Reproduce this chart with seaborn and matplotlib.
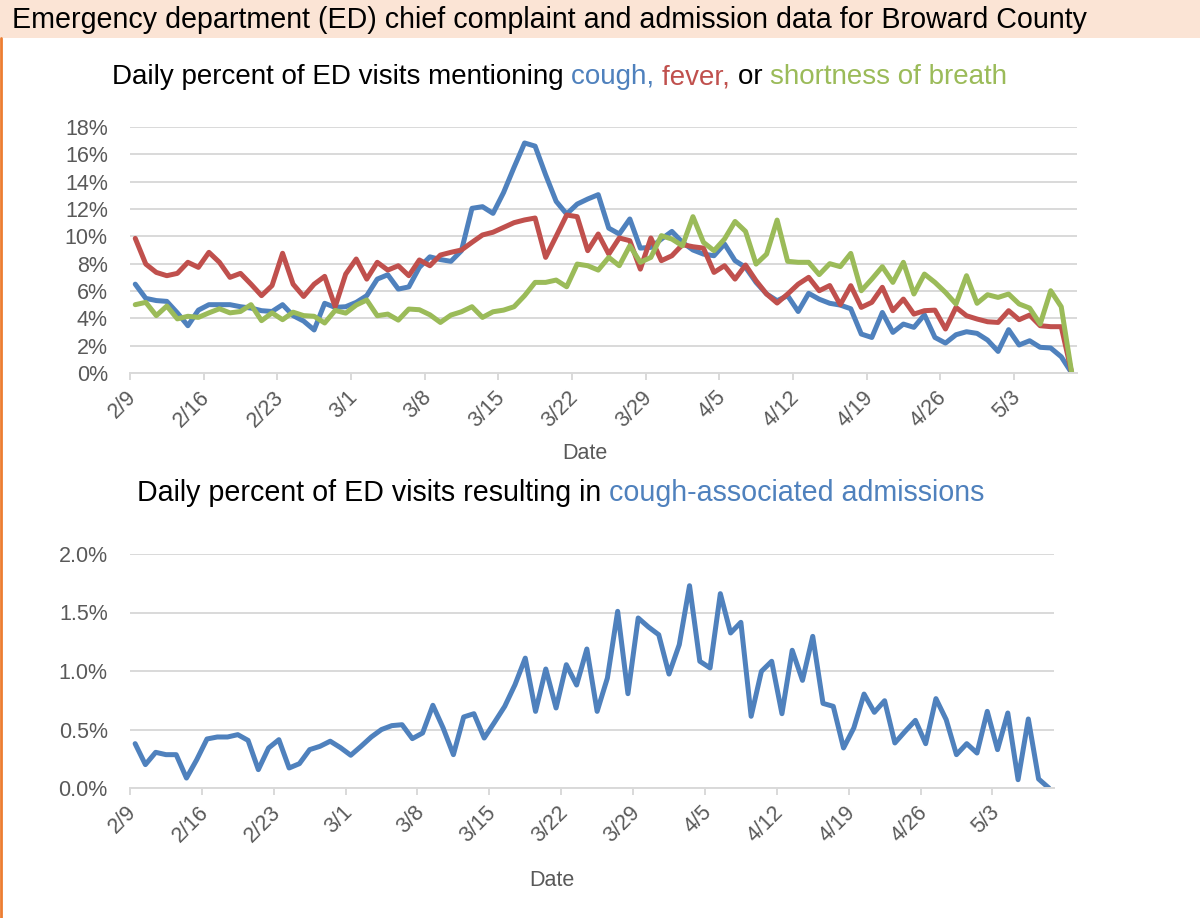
import numpy as np
import pandas as pd
import matplotlib
matplotlib.use("Agg")
import matplotlib.pyplot as plt
import matplotlib.transforms as mtransforms
from matplotlib.patches import Rectangle
from matplotlib.lines import Line2D
from matplotlib import font_manager
import seaborn as sns

# ---------------- data ----------------
start_date = "2020-02-09"
tick_labels = ["2/9", "2/16", "2/23", "3/1", "3/8", "3/15", "3/22", "3/29",
               "4/5", "4/12", "4/19", "4/26", "5/3"]
series_names = ["cough", "fever", "shortness of breath"]

cough = [6.5, 5.46, 5.3, 5.24, 4.4, 3.46, 4.6, 5.0, 5.0, 5.0,
         4.85, 4.75, 4.56, 4.5, 5.0, 4.2, 3.8, 3.15, 5.1, 4.8,
         4.85, 5.17, 5.66, 6.87, 7.19, 6.14, 6.3, 7.73, 8.5, 8.3,
         8.17, 8.95, 12.05, 12.17, 11.68, 13.2, 15.05, 16.83, 16.6, 14.5,
         12.56, 11.63, 12.36, 12.73, 13.05, 10.6, 10.17, 11.27, 9.14, 9.19,
         9.8, 10.36, 9.56, 9.0, 8.7, 8.58, 9.44, 8.22, 7.73, 6.63,
         5.78, 5.29, 5.66, 4.5, 5.83, 5.4, 5.1, 4.97, 4.7, 2.85,
         2.6, 4.43, 2.97, 3.58, 3.34, 4.26, 2.6, 2.19, 2.8, 3.02,
         2.9, 2.41, 1.58, 3.17, 2.05, 2.36, 1.88, 1.83, 1.19, 0.0]

fever = [9.85, 7.97, 7.36, 7.12, 7.29, 8.1, 7.73, 8.83, 8.1, 7.0,
         7.29, 6.5, 5.66, 6.4, 8.76, 6.5, 5.6, 6.5, 7.07, 4.85,
         7.24, 8.34, 6.87, 8.1, 7.53, 7.85, 7.12, 8.27, 7.85, 8.63,
         8.83, 9.0, 9.56, 10.1, 10.3, 10.65, 11.0, 11.2, 11.34, 8.46,
         10.0, 11.56, 11.44, 8.95, 10.17, 8.7, 9.88, 9.68, 7.6, 9.88,
         8.22, 8.58, 9.39, 9.24, 9.14, 7.36, 7.85, 6.87, 7.9, 6.75,
         5.78, 5.12, 5.78, 6.5, 7.0, 6.02, 6.4, 5.0, 6.39, 4.8,
         5.17, 6.27, 4.56, 5.41, 4.31, 4.56, 4.6, 3.22, 4.8, 4.19,
         3.95, 3.75, 3.7, 4.56, 3.9, 4.24, 3.46, 3.39, 3.39, 0.0]

sob = [5.0, 5.17, 4.2, 4.9, 3.96, 4.15, 4.07, 4.4, 4.7, 4.4,
       4.5, 5.0, 3.83, 4.4, 3.9, 4.45, 4.2, 4.15, 3.66, 4.58,
       4.38, 4.97, 5.34, 4.19, 4.31, 3.87, 4.68, 4.63, 4.26, 3.7,
       4.24, 4.48, 4.85, 4.07, 4.48, 4.6, 4.85, 5.66, 6.63, 6.63,
       6.8, 6.31, 7.97, 7.85, 7.53, 8.46, 7.85, 9.31, 8.1, 8.46,
       10.05, 9.8, 9.31, 11.44, 9.56, 8.95, 9.8, 11.09, 10.36, 7.97,
       8.7, 11.19, 8.17, 8.1, 8.1, 7.2, 8.0, 7.78, 8.75, 6.02,
       6.87, 7.78, 6.63, 8.1, 5.78, 7.24, 6.63, 5.9, 5.05, 7.12,
       5.1, 5.73, 5.53, 5.78, 5.05, 4.75, 3.58, 6.02, 4.85, 0.0]

cough_admissions = [0.379, 0.2, 0.305, 0.285, 0.285, 0.085, 0.242, 0.419, 0.436, 0.436,
                    0.456, 0.407, 0.157, 0.342, 0.413, 0.171, 0.208, 0.328, 0.356, 0.4,
                    0.345, 0.28, 0.356, 0.436, 0.5, 0.533, 0.541, 0.422, 0.47, 0.707,
                    0.513, 0.285, 0.607, 0.635, 0.427, 0.561, 0.698, 0.883, 1.11, 0.655,
                    1.017, 0.684, 1.054, 0.88, 1.188, 0.655, 0.94, 1.51, 0.806, 1.453,
                    1.376, 1.31, 0.974, 1.225, 1.729, 1.083, 1.026, 1.661, 1.325, 1.416,
                    0.613, 0.997, 1.083, 0.635, 1.177, 0.92, 1.296, 0.723, 0.698, 0.342,
                    0.513, 0.803, 0.647, 0.746, 0.385, 0.484, 0.578, 0.379, 0.764, 0.584,
                    0.285, 0.379, 0.299, 0.655, 0.328, 0.641, 0.071, 0.59, 0.077, 0.0]

top_yticks = [0, 2, 4, 6, 8, 10, 12, 14, 16, 18]
bottom_yticks = [0.0, 0.5, 1.0, 1.5, 2.0]

# ---------------- styling ----------------
BLUE = "#4F81BD"
RED = "#C0504D"
GREEN = "#9BBB59"
GRID = "#D9D9D9"
TXT = "#595959"
palette = {"cough": BLUE, "fever": RED, "shortness of breath": GREEN}

sns.set_theme(style="white")
avail = {f.name for f in font_manager.fontManager.ttflist}
NARROW = "Liberation Sans Narrow" if "Liberation Sans Narrow" in avail else "Liberation Sans"
plt.rcParams["font.family"] = ["Liberation Sans", "DejaVu Sans"]

W, H = 1200, 918
fig = plt.figure(figsize=(W / 100, H / 100), dpi=100)
fig.patch.set_facecolor("white")
renderer = fig.canvas.get_renderer()

dates = pd.date_range(start_date, periods=len(cough), freq="D")
df_top = pd.DataFrame({
    "Date": np.concatenate([dates, dates, dates]),
    "Percent": cough + fever + sob,
    "Series": [series_names[0]] * len(cough) + [series_names[1]] * len(fever)
              + [series_names[2]] * len(sob),
})
df_bot = pd.DataFrame({"Date": dates, "Percent": cough_admissions})


def fx(px):
    return px / W


def fy(py):
    return 1 - py / H


# banner
BANNER_H = 38
fig.add_artist(Rectangle((0, fy(BANNER_H)), 1, BANNER_H / H, transform=fig.transFigure,
                         facecolor="#FBE4D5", edgecolor="none", zorder=0))
fig.add_artist(Line2D([fx(1), fx(1)], [0, fy(BANNER_H)], transform=fig.transFigure,
                      color="#ED7D31", lw=2))


def text_width(s, size, family):
    t = fig.text(0, 0, s + "|", fontsize=size, family=family)
    w1 = t.get_window_extent(renderer=renderer).width
    t.set_text("|")
    w2 = t.get_window_extent(renderer=renderer).width
    t.remove()
    return w1 - w2


def rainbow(x_px, y_px, pieces, target_w, family):
    full = "".join(p[0] for p in pieces)
    size = 10 * target_w / text_width(full, 10, family)
    prefix = ""
    for s, c in pieces:
        off = text_width(prefix, size, family) if prefix else 0
        fig.text(fx(x_px + off), fy(y_px), s, color=c, fontsize=size, family=family,
                 va="baseline", ha="left")
        prefix += s


rainbow(12, 28, [("Emergency department (ED) chief complaint and admission data for Broward County", "black")],
        1080, NARROW)
rainbow(112, 84, [("Daily percent of ED visits mentioning ", "black"), ("cough, ", BLUE),
                  ("fever, ", RED), ("or ", "black"), ("shortness of breath", GREEN)], 900, NARROW)
rainbow(137, 501, [("Daily percent of ED visits resulting in ", "black"),
                   ("cough-associated admissions", BLUE)], 850, NARROW)


def style_axis(ax, yticks, fmt, ylim, label_xy):
    ax.set_ylim(*ylim)
    ax.set_yticks(yticks)
    ax.set_yticklabels([fmt.format(v) for v in yticks])
    half = pd.Timedelta(hours=12)
    ax.set_xlim(dates[0] - half, dates[-1] + half)
    tick_pos = [dates[0] + pd.Timedelta(days=7 * k) - half for k in range(len(tick_labels))]
    ax.set_xticks(tick_pos)
    ax.set_xticklabels(tick_labels)
    ax.grid(axis="y", color=GRID, lw=1.4)
    ax.grid(axis="x", visible=False)
    ax.set_axisbelow(True)
    for s in ["top", "right", "left"]:
        ax.spines[s].set_visible(False)
    ax.spines["bottom"].set_color(GRID)
    ax.spines["bottom"].set_linewidth(1.4)
    ax.tick_params(axis="y", length=0, pad=16, labelsize=15.5, labelcolor=TXT)
    ax.tick_params(axis="x", direction="out", length=5, width=1.4, color=GRID,
                   pad=5, labelsize=15.5, labelcolor=TXT, bottom=True)
    offset = mtransforms.ScaledTranslation(-4 / 100, 0, fig.dpi_scale_trans)
    for lab in ax.get_xticklabels():
        lab.set_rotation(45)
        lab.set_ha("right")
        lab.set_va("top")
        lab.set_rotation_mode("anchor")
        lab.set_transform(lab.get_transform() + offset)
    ax.set_xlabel("Date", fontsize=15.5, color=TXT)
    ax.set_ylabel("")
    ax.xaxis.set_label_coords(*label_xy)
    ax.set_facecolor("white")


# top chart
ax1 = fig.add_axes([fx(130), fy(373), (1077 - 130) / W, (373 - 127) / H])
sns.lineplot(data=df_top, x="Date", y="Percent", hue="Series", palette=palette,
             hue_order=series_names, ax=ax1, lw=3.6, legend=False)
style_axis(ax1, top_yticks, "{:.0f}%", (0, 18), ((585 - 130) / 947, (373 - 443) / 246))

# bottom chart
ax2 = fig.add_axes([fx(130), fy(788), (1054 - 130) / W, (788 - 554) / H])
sns.lineplot(data=df_bot, x="Date", y="Percent", color=BLUE, ax=ax2, lw=3.6)
style_axis(ax2, bottom_yticks, "{:.1f}%", (0, 2.0), ((552 - 130) / 924, (788 - 870) / 234))

fig.savefig("out.png", dpi=100)
